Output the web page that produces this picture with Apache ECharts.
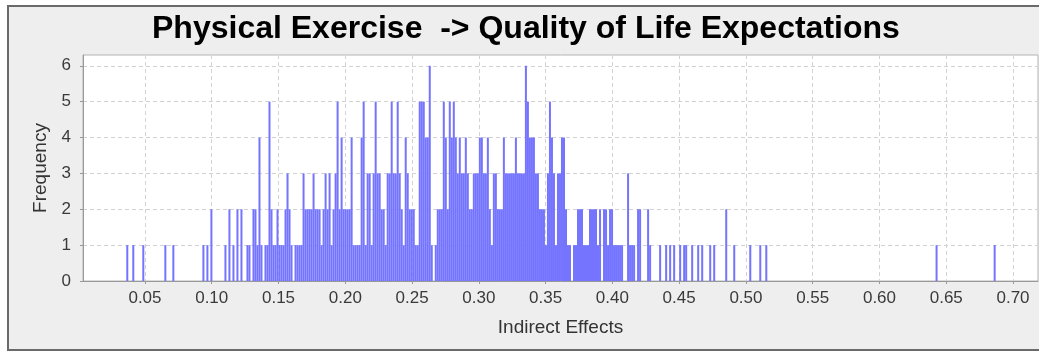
<!DOCTYPE html>
<html>
<head>
<meta charset="utf-8">
<title>Physical Exercise -> Quality of Life Expectations</title>
<script src="https://cdn.jsdelivr.net/npm/echarts@6/dist/echarts.min.js"></script>
<style>
  html, body { margin: 0; padding: 0; background: #fff; }
  #chart { width: 1039px; height: 352px; }
</style>
</head>
<body>
<div id="chart"></div>
<script>
// histogram of indirect effects, one entry per bin
const binStart = 0.036;
const binWidth = 0.0015;
const frequency = [
  1,0,0,1,0,0,0,0,1,0, 0,0,0,0,0,0,0,0,0,1,   // 0.036
  0,0,0,1,0,0,0,0,0,0, 0,0,0,0,0,0,0,0,1,0,
  1,0,2,0,0,0,0,0,0,1, 0,2,0,1,0,2,0,2,0,0,
  1,1,0,2,2,1,4,1,0,1, 1,5,2,1,1,2,1,1,1,2,
  3,2,1,0,1,1,1,1,3,2, 2,2,2,3,2,2,2,1,2,3,
  2,3,1,2,3,5,2,4,2,2, 2,2,4,1,1,1,1,4,5,1,   // 0.186
  3,3,1,3,5,3,3,2,2,1, 3,3,5,3,3,5,3,2,1,4,
  3,2,2,2,1,1,5,5,5,4, 4,6,1,0,1,2,2,2,5,4,
  2,5,4,5,4,3,4,3,3,4, 3,2,2,3,3,3,4,4,3,3,
  4,2,1,3,3,2,2,2,4,3, 3,3,3,3,4,3,3,3,3,6,
  5,4,4,4,3,3,2,2,2,1, 3,5,4,3,1,3,3,4,4,2,   // 0.336
  1,1,0,1,1,2,2,2,1,1, 1,2,2,2,2,1,2,0,2,2,
  1,2,2,1,1,1,1,1,0,0, 3,1,1,1,0,2,2,0,0,0,
  2,1,0,0,0,0,1,0,0,1, 0,1,0,1,0,0,1,0,1,1,
  0,0,1,0,0,1,0,1,0,0, 0,1,0,1,0,0,0,0,0,2,
  0,0,0,1,0,0,0,0,0,0, 0,1,0,0,0,0,1,0,0,1,   // 0.486
  0,0,0,0,0,0,0,0,0,0, 0,0,0,0,0,0,0,0,0,0,
  0,0,0,0,0,0,0,0,0,0, 0,0,0,0,0,0,0,0,0,0,
  0,0,0,0,0,0,0,0,0,0, 0,0,0,0,0,0,0,0,0,0,
  0,0,0,0,0,0,0,0,0,0, 0,0,0,0,0,0,0,0,0,0,
  0,0,0,0,1,0,0,0,0,0, 0,0,0,0,0,0,0,0,0,0,   // 0.636
  0,0,0,0,0,0,0,0,0,0, 0,0,0,1
];
const xTicks = [0.05, 0.10, 0.15, 0.20, 0.25, 0.30, 0.35, 0.40, 0.45, 0.50, 0.55, 0.60, 0.65, 0.70];
const yTicks = [0, 1, 2, 3, 4, 5, 6];

const xMin = 0.0036;
const xMax = 0.7187;
const barColor = "#7474FF";
const font = "'Liberation Sans', Arial, sans-serif";

const bins = frequency
  .map((n, i) => [binStart + i * binWidth, n])
  .filter((d) => d[1] > 0);

const chart = echarts.init(document.getElementById("chart"));

const dashed = { show: true, lineStyle: { color: "#d2d2d2", type: [4, 3], width: 1 } };

chart.setOption({
  backgroundColor: "#ffffff",
  animation: false,
  title: {
    text: "Physical Exercise  -> Quality of Life Expectations",
    left: 152,
    top: 13,
    padding: 0,
    textStyle: { fontFamily: font, fontSize: 32, fontWeight: "bold", color: "#000" },
  },
  graphic: [{
    type: "rect",
    z: -10,
    shape: { x: 8, y: 6, width: 1060, height: 344 },
    style: { fill: "#eeeeee", stroke: "#6a6a6a", lineWidth: 2 },
  }],
  grid: {
    left: 83, top: 55, width: 955, height: 226,
    show: true, backgroundColor: "#ffffff", borderColor: "#b4b4b4", borderWidth: 1,
  },
  xAxis: {
    type: "value",
    min: xMin,
    max: xMax,
    name: "Indirect Effects",
    nameLocation: "middle",
    nameGap: 37,
    nameTextStyle: { fontFamily: font, fontSize: 19, color: "#333" },
    axisLine: { lineStyle: { color: "#999" } },
    axisTick: { length: 3, lineStyle: { color: "#999" }, customValues: xTicks },
    axisLabel: {
      customValues: xTicks,
      formatter: (v) => v.toFixed(2),
      margin: 9,
      fontFamily: font, fontSize: 17, color: "#3a3a3a",
    },
    splitLine: dashed,
  },
  yAxis: {
    type: "value",
    min: 0,
    max: 6.3,
    interval: 1,
    name: "Frequency",
    nameLocation: "middle",
    nameGap: 33,
    nameTextStyle: { fontFamily: font, fontSize: 19, color: "#333" },
    axisLine: { show: true, lineStyle: { color: "#999" } },
    axisTick: { show: true, length: 3, lineStyle: { color: "#999" }, customValues: yTicks },
    axisLabel: {
      customValues: yTicks,
      margin: 12,
      fontFamily: font, fontSize: 17, color: "#3a3a3a",
    },
    splitLine: dashed,
  },
  series: [{
    type: "custom",
    clip: true,
    data: bins,
    renderItem: (params, api) => {
      const top = api.coord([api.value(0), api.value(1)]);
      const base = api.coord([api.value(0) + binWidth, 0]);
      return {
        type: "rect",
        shape: { x: top[0], y: top[1], width: base[0] - top[0], height: base[1] - top[1] },
        style: { fill: barColor },
      };
    },
  }],
});
</script>
</body>
</html>
